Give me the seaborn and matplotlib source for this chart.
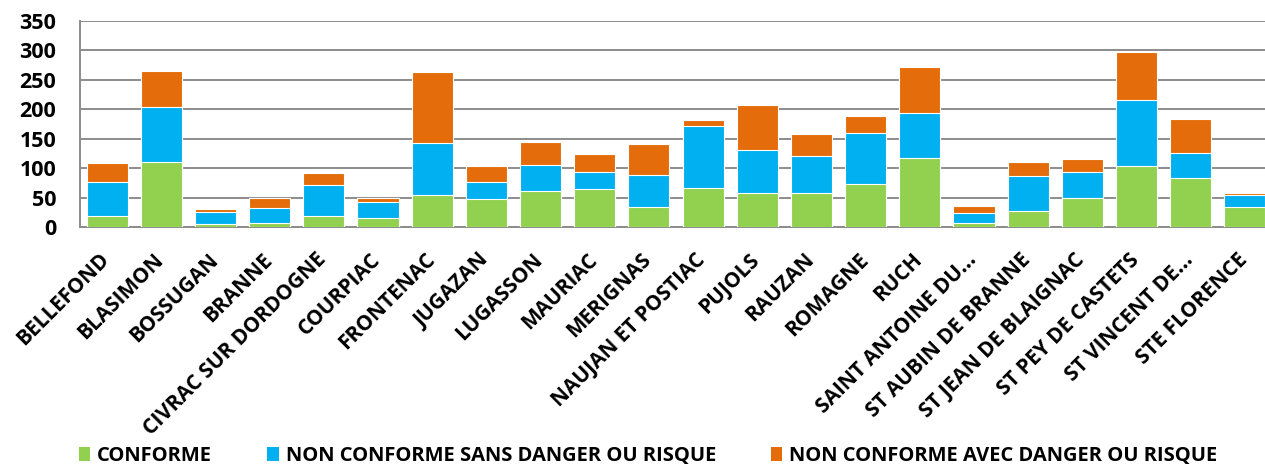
import numpy as np
import pandas as pd
import matplotlib
matplotlib.use("Agg")
import matplotlib.pyplot as plt
import matplotlib.transforms as mtransforms
import seaborn as sns
from matplotlib.patches import Patch

communes = ["BELLEFOND", "BLASIMON", "BOSSUGAN", "BRANNE", "CIVRAC SUR DORDOGNE",
            "COURPIAC", "FRONTENAC", "JUGAZAN", "LUGASSON", "MAURIAC", "MERIGNAS",
            "NAUJAN ET POSTIAC", "PUJOLS", "RAUZAN", "ROMAGNE", "RUCH",
            "SAINT ANTOINE DU...", "ST AUBIN DE BRANNE", "ST JEAN DE BLAIGNAC",
            "ST PEY DE CASTETS", "ST VINCENT DE...", "STE FLORENCE"]
conforme = [18, 110, 5, 7, 18, 16, 54, 47, 61, 64, 34, 67, 57, 57, 73, 117, 7, 27, 49, 104, 83, 34]
sans_danger = [59, 94, 21, 26, 54, 27, 88, 30, 45, 30, 55, 105, 73, 64, 86, 76, 16, 59, 45, 111, 43, 20]
avec_danger = [31, 61, 5, 17, 19, 7, 122, 27, 38, 30, 52, 9, 78, 37, 29, 79, 13, 24, 22, 82, 58, 4]
series = ["CONFORME", "NON CONFORME SANS DANGER OU RISQUE", "NON CONFORME AVEC DANGER OU RISQUE"]
colors = ["#92d050", "#00b0f0", "#e46c0a"]

df = pd.DataFrame({"commune": communes, "c": conforme, "s": sans_danger, "a": avec_danger})
df["lvl1"] = df["c"]
df["lvl2"] = df["c"] + df["s"]
df["lvl3"] = df["c"] + df["s"] + df["a"]

sns.set_style("white")
plt.rcParams["font.family"] = ["Open Sans", "DejaVu Sans"]
plt.rcParams["font.weight"] = "bold"
plt.rcParams["text.color"] = "black"
plt.rcParams["xtick.labelcolor"] = "black"
plt.rcParams["ytick.labelcolor"] = "black"

fig = plt.figure(figsize=(12.65, 4.68), dpi=100)
ax = fig.add_axes([80 / 1265, 1 - 227 / 468, 1192 / 1265, 206 / 468])

# stacked bars: draw totals back to front
for col, c in zip(["lvl3", "lvl2", "lvl1"], colors[::-1]):
    sns.barplot(data=df, x="commune", y=col, color=c, width=0.76,
                edgecolor="white", linewidth=0.8, saturation=1, ax=ax, zorder=3)

ax.set_ylim(0, 350)
ax.set_yticks(range(0, 351, 50))
ax.set_xlim(-0.5, len(communes) - 0.5)
ax.yaxis.grid(True, color="#8c8c8c", linewidth=1.4, zorder=0)
ax.set_axisbelow(True)
ax.set_xlabel("")
ax.set_ylabel("")
for s in ["top", "right"]:
    ax.spines[s].set_visible(False)
for s in ["left", "bottom"]:
    ax.spines[s].set_color("#8c8c8c")
    ax.spines[s].set_linewidth(1.4)

ax.tick_params(axis="y", length=7, width=1.4, color="#8c8c8c", direction="out",
               labelsize=15.5, pad=10, labelcolor="black")
ax.tick_params(axis="x", which="major", length=0, labelsize=15, pad=16, labelcolor="black")
ax.set_xticks(np.arange(-0.5, len(communes)), minor=True)
ax.tick_params(axis="x", which="minor", length=6, color="#8c8c8c", width=1.4)
shift = mtransforms.ScaledTranslation(-0.08, 0, fig.dpi_scale_trans)
for lab in ax.get_xticklabels():
    lab.set_rotation(45)
    lab.set_ha("right")
    lab.set_rotation_mode("anchor")
    lab.set_fontweight("bold")
    lab.set_transform(lab.get_transform() + shift)
for lab in ax.get_yticklabels():
    lab.set_fontweight("bold")

handles = [Patch(facecolor=c, edgecolor="none") for c in colors]
leg = fig.legend(handles, series, loc="center", bbox_to_anchor=(0.5125, 1 - 456 / 468), ncol=3,
                 frameon=False, handlelength=0.55, handleheight=0.7,
                 handletextpad=0.35, columnspacing=2.75, prop={"weight": "bold", "size": 14.5})
for t in leg.get_texts():
    t.set_color("black")

fig.savefig("out.png", dpi=100)
